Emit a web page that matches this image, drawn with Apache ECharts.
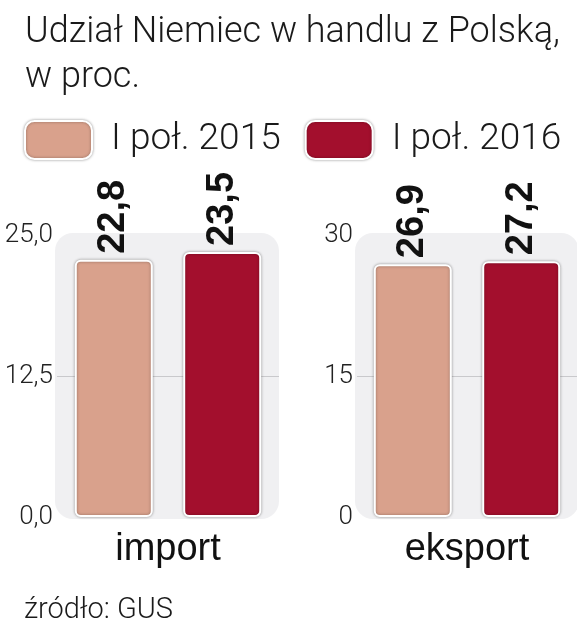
<!DOCTYPE html>
<html>
<head>
<meta charset="utf-8">
<script src="https://cdn.jsdelivr.net/npm/echarts@6/dist/echarts.min.js"></script>
<style>
html,body{margin:0;padding:0;background:#fff;}
#chart{width:577px;height:621px;}
</style>
</head>
<body>
<div id="chart"></div>
<script>
// ---- data ----
const categories = ['import', 'eksport'];
const seriesNames = ['I poł. 2015', 'I poł. 2016'];
const values2015 = [22.8, 26.9];
const values2016 = [23.5, 27.2];
const axisMax = [25, 30];
const axisInterval = [12.5, 15];
const importTicks = ['0,0', '12,5', '25,0'];
const eksportTicks = ['0', '15', '30'];
const tickLabels = [importTicks, eksportTicks];
const titleText = 'Udział Niemiec w handlu z Polską,\nw proc.';
const sourceText = 'źródło: GUS';

// ---- styles / layout ----
const colors = ['#D9A18C', '#A30F2D'];
const gridLeft = [57, 357];
const gridWidth = 222;
const gridTop = 235;
const gridHeight = 282;
const lightFont = 'Roboto';

const chart = echarts.init(document.getElementById('chart'), null, {renderer: 'canvas'});

const grids = gridLeft.map(l => ({left: l, top: gridTop, width: gridWidth, height: gridHeight}));

const xAxes = categories.map((c, i) => ({
  type: 'category', gridIndex: i, data: [c],
  axisLine: {show: false}, axisTick: {show: false},
  axisLabel: {color: '#111', fontFamily: 'Liberation Sans', fontSize: 38, margin: 14}
}));

const yAxes = categories.map((c, i) => ({
  type: 'value', gridIndex: i, min: 0, max: axisMax[i], interval: axisInterval[i],
  axisLine: {show: false}, axisTick: {show: false},
  axisLabel: {
    color: '#222', fontFamily: lightFont, fontWeight: 300, fontSize: 26, margin: 4,
    padding: [0, 0, 5, 0],
    formatter: (v) => tickLabels[i][Math.round(v / axisInterval[i])]
  },
  splitLine: {show: true, lineStyle: {color: ['rgba(0,0,0,0)', '#C9C9CC', 'rgba(0,0,0,0)'], width: 1}}
}));

const fmt = v => v.toFixed(1).replace('.', ',');

const series = [];
categories.forEach((c, i) => {
  [values2015, values2016].forEach((vals, s) => {
    series.push({
      type: 'bar', name: seriesNames[s], xAxisIndex: i, yAxisIndex: i,
      data: [vals[i]], barWidth: 78, barGap: '39%',
      itemStyle: {
        color: colors[s], borderColor: '#fff', borderWidth: 2, borderRadius: 5,
        shadowColor: 'rgba(0,0,0,0.35)', shadowBlur: 3
      },
      label: {
        show: true, position: 'top', rotate: 90, distance: 6,
        align: 'left', verticalAlign: 'middle',
        formatter: p => fmt(p.value),
        fontFamily: 'Liberation Sans', fontWeight: 'bold', fontSize: 38, color: '#111'
      }
    });
  });
});

const panels = gridLeft.map(l => ({
  type: 'rect', z: -10,
  shape: {x: l - 2, y: gridTop - 2, width: gridWidth + 2, height: gridHeight + 4, r: 18},
  style: {fill: '#F0F0F2'}
}));

chart.setOption({
  animation: false,
  backgroundColor: '#fff',
  title: [
    {text: titleText, left: 20, top: 5,
     textStyle: {fontFamily: lightFont, fontWeight: 300, fontSize: 36, lineHeight: 45, color: '#1a1a1a'}},
    {text: sourceText, left: 19, top: 591,
     textStyle: {fontFamily: lightFont, fontWeight: 300, fontSize: 29, color: '#1a1a1a'}}
  ],
  legend: {
    data: seriesNames, left: 19, top: 115, itemWidth: 67, itemHeight: 38, itemGap: 24,
    icon: 'roundRect',
    itemStyle: {borderColor: '#fff', borderWidth: 2, shadowColor: 'rgba(0,0,0,0.35)', shadowBlur: 3},
    textStyle: {fontFamily: lightFont, fontWeight: 300, fontSize: 37, lineHeight: 38, color: '#1a1a1a', padding: [0, 0, 0, 14]}
  },
  grid: grids,
  xAxis: xAxes,
  yAxis: yAxes,
  graphic: panels,
  series: series
});
</script>
</body>
</html>
